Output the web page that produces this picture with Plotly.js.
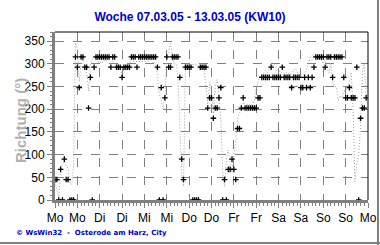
<!DOCTYPE html>
<html>
<head>
<meta charset="utf-8">
<script src="https://cdn.plot.ly/plotly-3.0.1.min.js"></script>
<style>
html,body{margin:0;padding:0;background:#fff;}
#wrap{position:relative;width:380px;height:245px;overflow:hidden;}
#chart{position:absolute;left:0;top:0;width:380px;height:245px;}
#frameR{position:absolute;left:377px;top:0;width:2px;height:245px;background:#808080;}
#frameB{position:absolute;left:0;top:242px;width:380px;height:2px;background:#808080;}
</style>
</head>
<body>
<div id="wrap"><div id="chart"></div><div id="frameR"></div><div id="frameB"></div></div>
<script>
// hours since Monday 07.03.05 00:00
const tickHours = [0,12,24,36,48,60,72,84,96,108,120,132,144,156,168];
const tickLabels = ["Mo","Mo","Di","Di","Mi","Mi","Do","Do","Fr","Fr","Sa","Sa","So","So","Mo"];

// wind direction sectors (markers), hourly
const dirSector = [
45,45,0,67.5,0,90,45,45,0,0,
0,315,292.5,247.5,315,315,292.5,292.5,202.5,270,
0,292.5,315,315,315,315,315,315,315,315,
292.5,315,315,292.5,292.5,292.5,270,292.5,292.5,292.5,
292.5,315,315,315,292.5,315,315,315,315,315,
315,315,315,315,315,292.5,0,247.5,0,225,
315,292.5,292.5,315,315,315,315,270,90,45,
292.5,292.5,292.5,292.5,0,0,0,0,292.5,292.5,
292.5,292.5,202.5,225,225,180,202.5,202.5,225,247.5,
0,45,0,67.5,67.5,90,67.5,45,157.5,157.5,
202.5,225,202.5,202.5,202.5,202.5,202.5,202.5,202.5,225,
225,270,270,270,270,270,292.5,270,270,270,
270,270,292.5,270,270,270,270,247.5,270,270,
270,270,247.5,247.5,270,247.5,270,247.5,270,292.5,
315,315,315,315,315,292.5,315,315,315,270,
315,315,315,315,315,270,225,225,247.5,225,
225,225,292.5,0,180,202.5,202.5,225
];

// continuous direction (dotted line), hourly
const dirLine = [
40,20,5,60,80,85,75,70,35,35,
75,350,330,260,300,310,290,280,240,300,
310,315,310,305,305,300,305,310,305,300,
300,305,300,300,295,290,270,290,295,300,
300,305,305,305,305,305,305,305,305,305,
305,300,300,305,300,270,230,220,200,230,
310,330,345,320,300,300,270,160,60,30,
300,300,300,298,298,298,298,295,295,295,
290,240,210,260,240,190,250,265,230,180,
60,30,90,110,80,60,100,130,180,190,
205,215,212,210,212,208,210,220,245,260,
275,275,280,285,280,290,300,295,298,285,
285,280,280,278,282,278,275,280,285,290,
282,275,272,268,280,285,300,315,318,320,
320,318,316,310,300,310,290,280,300,260,
250,250,220,230,225,240,240,250,260,280,
200,40,80,100,160,280,300,230
];

const hours = dirSector.map((_, i) => i);

const traces = [
  {
    x: hours, y: dirLine, type: 'scatter', mode: 'lines',
    line: {color: '#a0a0a0', width: 1, dash: '1px,2px'},
    hoverinfo: 'skip', showlegend: false
  },
  {
    x: hours, y: dirSector, type: 'scatter', mode: 'markers',
    marker: {symbol: 'cross-thin', size: 4, color: '#000', line: {color: '#000', width: 1.3}},
    showlegend: false
  }
];

const gridColor = '#808080';
const layout = {
  width: 380, height: 245,
  margin: {l: 55, r: 12, t: 32, b: 45, pad: 0},
  paper_bgcolor: '#fff', plot_bgcolor: '#fff',
  font: {family: 'Arial, Liberation Sans, sans-serif', size: 12, color: '#000'},
  title: {
    text: 'Woche 07.03.05 - 13.03.05 (KW10)',
    font: {family: 'Arial, Liberation Sans, sans-serif', size: 12, color: '#0000c8', weight: 'bold'},
    x: 0.5, xref: 'container', xanchor: 'center',
    y: 1 - 17/245, yref: 'container', yanchor: 'middle'
  },
  xaxis: {
    range: [0, 168], tickmode: 'array', tickvals: tickHours, ticktext: tickLabels,
    showgrid: true, gridcolor: gridColor, griddash: 'dash', gridwidth: 1,
    showline: true, linecolor: '#808080', linewidth: 3,
    ticks: 'outside', ticklen: 5, tickcolor: '#808080', tickwidth: 1,
    minor: {tick0: 0, dtick: 2, ticks: 'outside', ticklen: 3, tickcolor: '#808080', showgrid: false},
    zeroline: false, fixedrange: true,
    tickfont: {size: 12, color: '#000'}
  },
  yaxis: {
    range: [0, 370], tickmode: 'array', tickvals: [0,50,100,150,200,250,300,350],
    showgrid: true, gridcolor: gridColor, griddash: 'dash', gridwidth: 1,
    showline: true, linecolor: '#808080', linewidth: 3,
    ticks: 'outside', ticklen: 5, tickcolor: '#808080', tickwidth: 1,
    minor: {tick0: 0, dtick: 10, ticks: 'outside', ticklen: 2, tickcolor: '#808080', showgrid: false},
    zeroline: false, fixedrange: true,
    tickfont: {size: 12, color: '#000'}
  },
  shapes: [
    {type: 'line', xref: 'paper', yref: 'paper', x0: 0, x1: 1, y0: 1, y1: 1, line: {color: '#000', width: 1}},
    {type: 'line', xref: 'paper', yref: 'paper', x0: 1, x1: 1, y0: 0, y1: 1, line: {color: '#000', width: 1}}
  ],
  annotations: [
    {
      text: 'Richtung (°)', textangle: -90, showarrow: false,
      xref: 'paper', yref: 'paper', x: (20-55)/313, y: (200-121)/168,
      xanchor: 'center', yanchor: 'middle',
      font: {family: 'Arial, Liberation Sans, sans-serif', size: 15, color: '#b0b0b0', weight: 'bold'}
    },
    {
      text: '© WsWin32  -  Osterode am Harz, City', showarrow: false,
      xref: 'paper', yref: 'paper', x: (14-55)/313, y: (200-233)/168,
      xanchor: 'left', yanchor: 'middle',
      font: {family: 'Verdana, DejaVu Sans, sans-serif', size: 7, color: '#0000c8', weight: 'bold'}
    }
  ]
};

Plotly.newPlot('chart', traces, layout, {staticPlot: true, displayModeBar: false});
</script>
</body>
</html>
